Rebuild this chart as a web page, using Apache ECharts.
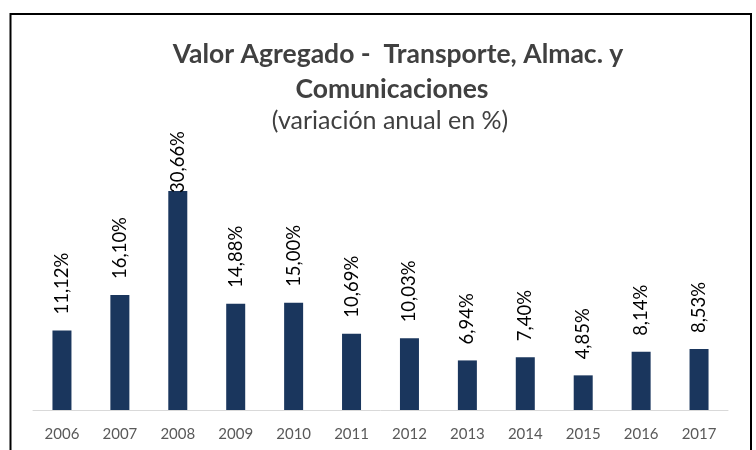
<!DOCTYPE html>
<html><head><meta charset="utf-8">
<script src="https://cdn.jsdelivr.net/npm/echarts@6/dist/echarts.min.js"></script>
<style>html,body{margin:0;padding:0;background:#fff}#c{width:756px;height:450px}</style>
</head><body><div id="c"></div>
<script>
var categories = ['2006','2007','2008','2009','2010','2011','2012','2013','2014','2015','2016','2017'];
var values = [11.12, 16.10, 30.66, 14.88, 15.00, 10.69, 10.03, 6.94, 7.40, 4.85, 8.14, 8.53];
var titleLine1 = 'Valor Agregado -  Transporte, Almac. y';
var titleLine2 = 'Comunicaciones';
var subtitle = '(variación anual en %)';

var chart = echarts.init(document.getElementById('c'));
var data = values.map(function(v){
  if (v === 30.66) return {value: v, label: {distance: -4}};
  return v;
});
var tStyle = {fontFamily: 'Lato', fontWeight: 'bold', fontSize: 26.5, color: '#404040'};
chart.setOption({
  animation: false,
  backgroundColor: '#fff',
  title: [
    {text: titleLine1, left: 393, textAlign: 'center', top: 36, textStyle: tStyle},
    {text: titleLine2, left: 387, textAlign: 'center', top: 71, textStyle: tStyle},
    {text: subtitle, left: 385, textAlign: 'center', top: 103,
     textStyle: {fontFamily: 'Lato', fontWeight: 'normal', fontSize: 25, color: '#404040'}}
  ],
  graphic: [{type: 'rect', shape: {x: 10.5, y: 14, width: 740.5, height: 460},
    style: {fill: 'none', stroke: '#000', lineWidth: 2}}],
  grid: {left: 33, right: 28, top: 160, bottom: 40},
  xAxis: {type: 'category', data: categories,
    axisLine: {lineStyle: {color: '#d9d9d9', width: 1}},
    axisTick: {show: false},
    axisLabel: {color: '#595959', fontSize: 15, fontFamily: 'Lato', margin: 17}},
  yAxis: {type: 'value', min: 0, max: 35, show: false, splitLine: {show: false}},
  series: [{type: 'bar', data: data, barWidth: 19,
    itemStyle: {color: '#1a365d'},
    label: {show: true, position: 'top', rotate: 90, align: 'left', verticalAlign: 'middle',
      distance: 14, color: '#000', fontSize: 18.5, fontFamily: 'Lato', offset: [2, 0],
      formatter: function(p){ return p.value.toFixed(2).replace('.', ',') + '%'; }}
  }]
});
</script></body></html>
